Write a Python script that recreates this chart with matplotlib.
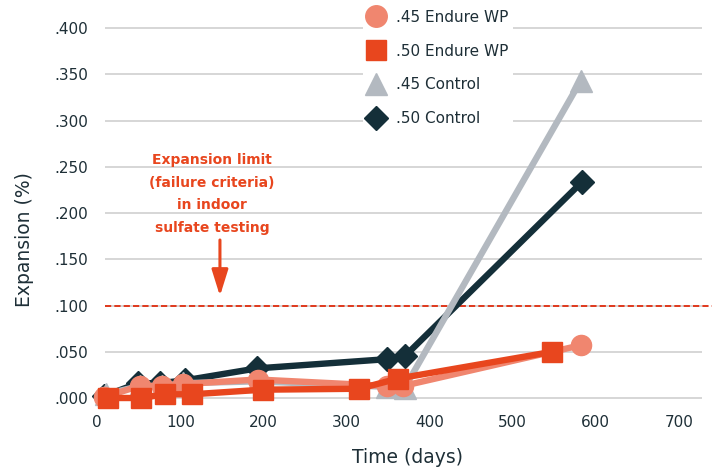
import matplotlib
matplotlib.use("Agg")
import matplotlib.pyplot as plt
from matplotlib.lines import Line2D

# ---- data ----
days_45_endure = [8, 51, 78, 103, 193, 349, 368, 582]
exp_45_endure = [0.001, 0.013, 0.013, 0.015, 0.020, 0.013, 0.013, 0.057]

days_50_endure = [13, 53, 81, 114, 199, 315, 362, 548]
exp_50_endure = [0.000, 0.000, 0.004, 0.004, 0.009, 0.010, 0.021, 0.050]

days_45_control = [10, 51, 78, 103, 193, 349, 370, 582]
exp_45_control = [0.004, 0.013, 0.013, 0.016, 0.018, 0.012, 0.011, 0.343]

days_50_control = [8, 49, 75, 105, 192, 349, 370, 584]
exp_50_control = [0.002, 0.016, 0.016, 0.019, 0.032, 0.042, 0.045, 0.234]

series_labels = [".45 Endure WP", ".50 Endure WP", ".45 Control", ".50 Control"]
x_ticks = [0, 100, 200, 300, 400, 500, 600, 700]
y_ticks = [0.0, 0.05, 0.10, 0.15, 0.20, 0.25, 0.30, 0.35, 0.40]
y_tick_labels = [".000", ".050", ".100", ".150", ".200", ".250", ".300", ".350", ".400"]
limit_value = 0.100
annot_text = "Expansion limit\n(failure criteria)\nin indoor\nsulfate testing"

# ---- style ----
C_SALMON = "#F0866F"
C_RED = "#E8461E"
C_GRAY = "#B3B9C0"
C_DARK = "#142F39"
C_TEXT = "#1E2F37"
C_GRID = "#CBCBCB"

plt.rcParams['font.family'] = ['DejaVu Sans']

W, H = 714, 469
fig = plt.figure(figsize=(W / 100, H / 100), dpi=100)
ax_left_px, ax_right_px = 97.3, 702.0
ax_top_px, ax_bot_px = 28.0, 398.0
ax = fig.add_axes([ax_left_px / W, 1 - ax_bot_px / H,
                   (ax_right_px - ax_left_px) / W, (ax_bot_px - ax_top_px) / H])

xmax = 728
ax.set_xlim(0, xmax)
ax.set_ylim(0, 0.4)
for s in ax.spines.values():
    s.set_visible(False)

grid_start = 9.3
ax.hlines(y_ticks, grid_start, xmax, colors=C_GRID, linewidth=1.1, zorder=1, clip_on=False)
ax.plot([grid_start, 740], [limit_value, limit_value], color="#E0381C", linewidth=1.4,
        dashes=(3.2, 1.6), zorder=2, clip_on=False)

lw = 4.6
ax.plot(days_50_control, exp_50_control, color=C_DARK, lw=lw, marker="D", ms=12.7,
        zorder=3, clip_on=False, solid_joinstyle="miter")
ax.plot(days_45_control, exp_45_control, color=C_GRAY, lw=lw, marker="^", ms=16,
        zorder=4, clip_on=False, solid_joinstyle="miter")
ax.plot(days_45_endure, exp_45_endure, color=C_SALMON, lw=lw, marker="o", ms=14.5,
        zorder=5, clip_on=False)
ax.plot(days_50_endure, exp_50_endure, color=C_RED, lw=lw, marker="s", ms=14.4,
        zorder=6, clip_on=False)

ax.set_xticks(x_ticks)
ax.set_xticklabels([str(t) for t in x_ticks])
ax.set_yticks(y_ticks)
ax.set_yticklabels(y_tick_labels)
ax.tick_params(axis="both", length=0, labelsize=11, labelcolor=C_TEXT)
ax.tick_params(axis="x", pad=12)
ax.tick_params(axis="y", pad=6.5)

ax.set_xlabel("Time (days)", fontsize=13.5, color=C_TEXT)
ax.set_ylabel("Expansion (%)", fontsize=13.5, color=C_TEXT)
ax.xaxis.set_label_coords(407 / W, 1 - 457 / H, transform=fig.transFigure)
ax.xaxis.label.set_va("center")
ax.yaxis.set_label_coords(24 / W, 1 - 240 / H, transform=fig.transFigure)
ax.yaxis.label.set_va("center")

# annotation
fig.text(212 / W, 1 - 194 / H, annot_text, ha="center", va="center", fontsize=10,
         fontweight="bold", color=C_RED, linespacing=1.78)
ax.annotate("", xy=((220 - ax_left_px) / 0.831, (398 - 296) / 925),
            xytext=((220 - ax_left_px) / 0.831, (398 - 240) / 925),
            arrowprops=dict(arrowstyle="-|>,head_length=1.6,head_width=0.5",
                            color=C_RED, lw=2.2, shrinkA=0, shrinkB=0), zorder=7)

handles = [
    Line2D([], [], color=C_SALMON, marker="o", ms=15.5, ls="none"),
    Line2D([], [], color=C_RED, marker="s", ms=14.2, ls="none"),
    Line2D([], [], color=C_GRAY, marker="^", ms=16.5, ls="none"),
    Line2D([], [], color=C_DARK, marker="D", ms=12.7, ls="none"),
]
leg = fig.legend(handles, series_labels, loc="center",
                 bbox_to_anchor=(438 / W, 1 - 68 / H), frameon=True, fontsize=11,
                 labelspacing=1.24, handlelength=1.2, handletextpad=0.7,
                 borderpad=0.3, borderaxespad=0, labelcolor=C_TEXT)
leg.get_frame().set_facecolor("white")
leg.get_frame().set_edgecolor("none")
leg.get_frame().set_alpha(1.0)

fig.savefig("out.png", dpi=100)
